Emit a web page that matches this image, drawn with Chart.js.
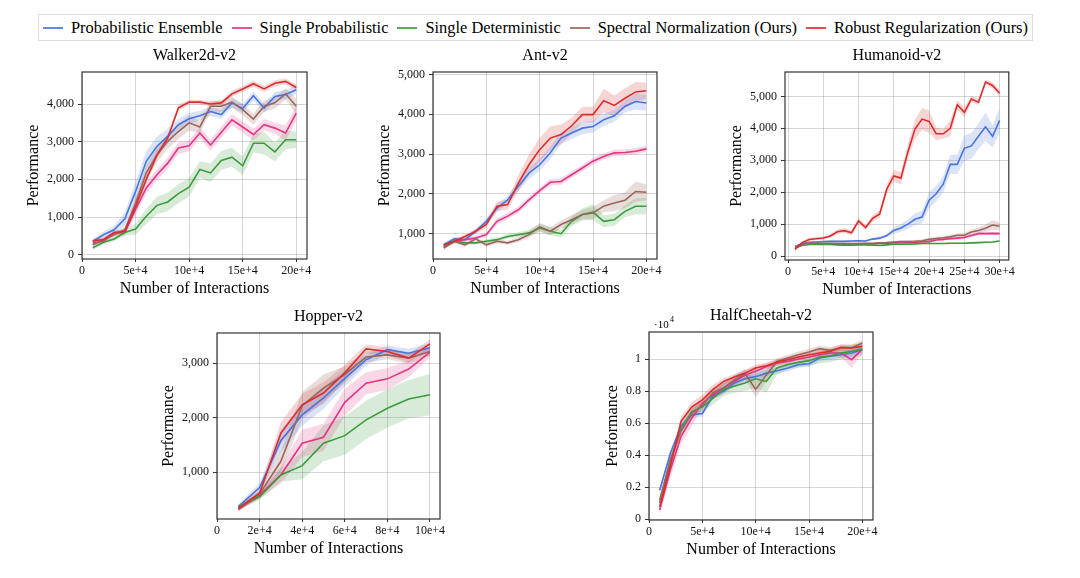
<!DOCTYPE html>
<html>
<head>
<meta charset="utf-8">
<script src="https://cdn.jsdelivr.net/npm/chart.js@4.4.1/dist/chart.umd.min.js"></script>
<style>
  body { margin: 0; background: #fff; width: 1080px; height: 578px; overflow: hidden; position: relative; font-family: "Liberation Serif", serif; }
  .legend { position: absolute; left: 38px; top: 14px; width: 995px; height: 27px; border: 1px solid #ddd; box-sizing: border-box;
            display: flex; align-items: center; padding-left: 4px; font-size: 16.4px; color: #000; }
  .item { display: flex; align-items: center; margin-right: 9px; white-space: nowrap; }
  .sw { width: 20px; height: 2px; margin-right: 8px; opacity: 0.85; }
  canvas { position: absolute; }
</style>
</head>
<body>
<div class="legend" id="legend"></div>

<script>
const names = ['Probabilistic Ensemble', 'Single Probabilistic', 'Single Deterministic', 'Spectral Normalization (Ours)', 'Robust Regularization (Ours)'];
const colors = ['#4a74de', '#e23583', '#3b9c3b', '#99665c', '#dd2c2c'];
const bandColors = ['rgba(74,116,222,0.2)', 'rgba(226,53,131,0.2)', 'rgba(59,156,59,0.2)', 'rgba(153,102,92,0.22)', 'rgba(221,44,44,0.2)'];

// ---- Walker2d-v2
const steps20 = [1e4, 2e4, 3e4, 4e4, 5e4, 6e4, 7e4, 8e4, 9e4, 10e4, 11e4, 12e4, 13e4, 14e4, 15e4, 16e4, 17e4, 18e4, 19e4, 20e4];
const walkerPE = [350, 530, 660, 950, 1680, 2480, 2880, 3140, 3450, 3610, 3690, 3800, 3720, 4030, 3880, 4220, 3890, 4200, 4250, 4380];
const walkerSP = [310, 354, 575, 590, 1200, 1770, 2120, 2430, 2830, 2890, 3230, 2910, 3250, 3580, 3390, 3190, 3450, 3360, 3230, 3760];
const walkerSD = [180, 330, 415, 590, 680, 1020, 1310, 1400, 1620, 1790, 2260, 2170, 2500, 2590, 2360, 2960, 2960, 2730, 3050, 3050];
const walkerSN = [265, 400, 530, 660, 1370, 2170, 2650, 3010, 3270, 3500, 3390, 3940, 3940, 4050, 3850, 3600, 3940, 4030, 4270, 3940];
const walkerRR = [370, 400, 590, 620, 1280, 2000, 2650, 3100, 3900, 4050, 4050, 4000, 4030, 4270, 4400, 4540, 4400, 4550, 4600, 4440];
const walkerPEBand = [60, 80, 100, 180, 250, 280, 250, 200, 150, 150, 130, 120, 120, 120, 120, 120, 120, 120, 120, 120];
const walkerSPBand = [60, 60, 60, 80, 150, 150, 150, 150, 150, 150, 150, 150, 150, 150, 150, 150, 150, 150, 200, 200];
const walkerSDBand = [50, 60, 60, 80, 150, 200, 230, 250, 250, 250, 220, 250, 250, 250, 250, 250, 300, 250, 250, 220];
const walkerSNBand = [60, 60, 60, 80, 150, 200, 200, 200, 200, 200, 150, 150, 150, 150, 150, 150, 150, 150, 150, 200];
const walkerRRBand = [50, 50, 50, 60, 80, 100, 100, 80, 80, 60, 60, 60, 60, 80, 80, 80, 80, 80, 80, 80];

// ---- Ant-v2
const antPE = [720, 870, 850, 1060, 1310, 1640, 1850, 2190, 2520, 2730, 3030, 3400, 3530, 3650, 3690, 3860, 3960, 4200, 4320, 4280];
const antSP = [680, 810, 850, 890, 975, 1310, 1440, 1600, 1850, 2080, 2290, 2310, 2480, 2650, 2820, 2940, 3030, 3040, 3070, 3130];
const antSD = [680, 810, 770, 770, 810, 850, 930, 975, 1020, 1140, 1060, 1000, 1310, 1480, 1540, 1310, 1350, 1560, 1690, 1690];
const antSN = [640, 810, 720, 870, 720, 810, 770, 850, 975, 1170, 1060, 1230, 1350, 1480, 1520, 1690, 1770, 1840, 2060, 2040];
const antRR = [720, 810, 930, 1060, 1230, 1690, 1730, 2270, 2730, 3110, 3400, 3490, 3710, 3990, 3990, 4340, 4220, 4400, 4560, 4590];
const antPEBand = [50, 50, 50, 60, 80, 100, 100, 120, 150, 150, 150, 150, 150, 150, 150, 150, 150, 150, 200, 200];
const antSPBand = [40, 40, 40, 50, 60, 80, 80, 80, 80, 80, 80, 80, 80, 80, 80, 80, 80, 80, 80, 80];
const antSDBand = [40, 40, 40, 40, 50, 50, 60, 60, 80, 100, 100, 100, 120, 150, 200, 150, 150, 150, 200, 200];
const antSNBand = [50, 50, 50, 50, 50, 50, 50, 60, 80, 100, 100, 100, 120, 120, 150, 150, 200, 200, 250, 200];
const antRRBand = [50, 50, 50, 60, 80, 120, 120, 200, 250, 300, 300, 250, 200, 200, 200, 300, 250, 250, 250, 200];

// ---- Humanoid-v2
const steps30 = [1e4, 2e4, 3e4, 4e4, 5e4, 6e4, 7e4, 8e4, 9e4, 10e4, 11e4, 12e4, 13e4, 14e4, 15e4, 16e4, 17e4, 18e4, 19e4, 20e4,
                 21e4, 22e4, 23e4, 24e4, 25e4, 26e4, 27e4, 28e4, 29e4, 30e4];
const humanoidPE = [300, 390, 430, 440, 450, 460, 460, 460, 470, 480, 470, 530, 560, 640, 800, 880, 1000, 1150, 1220, 1750, 1950, 2250, 2870, 2870, 3380, 3450, 3750, 4050, 3750, 4250];
const humanoidSP = [280, 380, 400, 390, 380, 380, 380, 370, 380, 380, 380, 380, 390, 400, 410, 420, 420, 430, 440, 450, 500, 520, 540, 560, 580, 640, 700, 700, 710, 700];
const humanoidSD = [250, 330, 360, 370, 360, 360, 350, 340, 340, 350, 350, 340, 330, 350, 370, 370, 370, 380, 390, 390, 390, 390, 400, 400, 400, 410, 420, 430, 440, 470];
const humanoidSN = [250, 370, 400, 400, 390, 400, 390, 390, 390, 390, 400, 400, 410, 420, 440, 450, 450, 460, 480, 520, 550, 570, 600, 650, 650, 750, 800, 870, 970, 930];
const humanoidRR = [210, 420, 520, 540, 565, 630, 760, 795, 730, 1100, 890, 1180, 1320, 2100, 2510, 2440, 3270, 3975, 4290, 4215, 3830, 3830, 4000, 4740, 4500, 4920, 4820, 5450, 5345, 5100];
const humanoidPEBand = [30, 30, 30, 30, 30, 30, 30, 30, 30, 30, 40, 40, 50, 60, 100, 120, 150, 180, 200, 250, 250, 250, 300, 300, 400, 400, 400, 450, 350, 400];
const humanoidSPBand = [30, 30, 30, 30, 30, 30, 30, 30, 30, 30, 30, 30, 30, 30, 30, 30, 30, 30, 40, 40, 40, 40, 40, 50, 50, 50, 50, 50, 50, 50];
const humanoidSDBand = [20, 20, 20, 20, 20, 20, 20, 20, 20, 20, 20, 20, 20, 20, 20, 20, 20, 20, 20, 20, 20, 20, 20, 20, 20, 25, 25, 25, 25, 25];
const humanoidSNBand = [30, 30, 30, 30, 30, 30, 30, 30, 30, 30, 30, 30, 30, 30, 40, 40, 40, 40, 40, 50, 50, 50, 60, 60, 80, 80, 100, 120, 150, 120];
const humanoidRRBand = [40, 50, 50, 50, 50, 60, 80, 80, 80, 100, 80, 100, 120, 150, 180, 200, 250, 300, 350, 350, 200, 150, 250, 150, 150, 100, 100, 80, 100, 100];

// ---- Hopper-v2
const steps10 = [1e4, 2e4, 3e4, 4e4, 5e4, 6e4, 7e4, 8e4, 9e4, 10e4];
const hopperPE = [370, 720, 1580, 2050, 2360, 2720, 3060, 3245, 3180, 3280];
const hopperSP = [320, 580, 950, 1530, 1640, 2280, 2630, 2710, 2890, 3200];
const hopperSD = [360, 550, 950, 1120, 1530, 1670, 1960, 2170, 2340, 2420];
const hopperSN = [320, 600, 1200, 2220, 2540, 2790, 3110, 3150, 3090, 3210];
const hopperRR = [340, 615, 1715, 2235, 2450, 2820, 3260, 3210, 3090, 3350];
const hopperPEBand = [40, 80, 200, 200, 200, 150, 100, 80, 80, 80];
const hopperSPBand = [40, 60, 150, 250, 250, 250, 200, 200, 150, 100];
const hopperSDBand = [40, 60, 120, 250, 330, 350, 350, 350, 350, 380];
const hopperSNBand = [40, 60, 200, 250, 250, 150, 100, 80, 100, 80];
const hopperRRBand = [40, 60, 200, 200, 200, 150, 80, 80, 80, 80];

// ---- HalfCheetah-v2 (x 10^4)
const cheetahPE = [0.18, 0.41, 0.58, 0.65, 0.66, 0.77, 0.80, 0.85, 0.877, 0.89, 0.912, 0.927, 0.944, 0.965, 0.971, 1.006, 1.017, 1.027, 1.038, 1.058];
const cheetahSP = [0.056, 0.307, 0.516, 0.63, 0.724, 0.777, 0.818, 0.86, 0.90, 0.923, 0.954, 0.975, 0.985, 1.0, 1.013, 1.027, 1.038, 1.038, 0.996, 1.062];
const cheetahSD = [0.10, 0.36, 0.56, 0.67, 0.70, 0.755, 0.81, 0.83, 0.85, 0.877, 0.86, 0.944, 0.965, 0.979, 0.99, 1.013, 1.02, 1.038, 1.048, 1.062];
const cheetahSN = [0.12, 0.37, 0.55, 0.66, 0.71, 0.79, 0.82, 0.87, 0.91, 0.81, 0.90, 0.985, 1.006, 1.027, 1.044, 1.065, 1.054, 1.069, 1.069, 1.10];
const cheetahRR = [0.077, 0.33, 0.61, 0.70, 0.745, 0.81, 0.86, 0.887, 0.912, 0.944, 0.958, 0.981, 0.996, 1.013, 1.027, 1.038, 1.048, 1.073, 1.069, 1.079];
const cheetahPEBand = [0.02, 0.02, 0.02, 0.02, 0.02, 0.02, 0.02, 0.02, 0.02, 0.02, 0.02, 0.02, 0.02, 0.02, 0.02, 0.02, 0.02, 0.02, 0.02, 0.02];
const cheetahSPBand = [0.03, 0.05, 0.05, 0.05, 0.03, 0.03, 0.03, 0.03, 0.03, 0.03, 0.02, 0.02, 0.02, 0.02, 0.02, 0.02, 0.02, 0.03, 0.05, 0.03];
const cheetahSDBand = [0.02, 0.03, 0.03, 0.03, 0.03, 0.04, 0.04, 0.04, 0.05, 0.06, 0.07, 0.04, 0.03, 0.03, 0.03, 0.04, 0.04, 0.04, 0.04, 0.04];
const cheetahSNBand = [0.02, 0.03, 0.03, 0.03, 0.03, 0.03, 0.03, 0.03, 0.03, 0.05, 0.04, 0.02, 0.02, 0.02, 0.02, 0.02, 0.02, 0.02, 0.02, 0.02];
const cheetahRRBand = [0.02, 0.03, 0.03, 0.03, 0.03, 0.03, 0.02, 0.02, 0.02, 0.02, 0.02, 0.02, 0.02, 0.02, 0.02, 0.02, 0.02, 0.02, 0.02, 0.02];

// tick positions
const xTicks20 = [0, 5e4, 10e4, 15e4, 20e4];
const xTicks30 = [0, 5e4, 10e4, 15e4, 20e4, 25e4, 30e4];
const xTicks10 = [0, 2e4, 4e4, 6e4, 8e4, 10e4];
const walkerYTicks = [0, 1000, 2000, 3000, 4000];
const antYTicks = [1000, 2000, 3000, 4000, 5000];
const humanoidYTicks = [0, 1000, 2000, 3000, 4000, 5000];
const hopperYTicks = [1000, 2000, 3000];
const cheetahYTicks = [0, 0.2, 0.4, 0.6, 0.8, 1];

// legend
const legendEl = document.getElementById('legend');
names.forEach((n, i) => {
    const it = document.createElement('div');
    it.className = 'item';
    it.innerHTML = '<span class="sw" style="background:' + colors[i] + '"></span><span>' + n + '</span>';
    legendEl.appendChild(it);
});

const serif = '"Liberation Serif", "Times New Roman", serif';

const panelDeco = {
    id: 'panelDeco',
    afterDraw(chart) {
        const { ctx, chartArea: a } = chart;
        const o = chart.options.plugins.panelDeco;
        ctx.save();
        ctx.strokeStyle = '#333';
        ctx.lineWidth = 1.2;
        ctx.strokeRect(a.left, a.top, a.right - a.left, a.bottom - a.top);
        ctx.fillStyle = '#000';
        ctx.font = '16px ' + serif;
        ctx.textAlign = 'center';
        ctx.textBaseline = 'middle';
        ctx.fillText(o.title, (a.left + a.right) / 2, a.top - 16);
        if (o.mult) {
            ctx.textAlign = 'left';
            ctx.font = '11px ' + serif;
            ctx.fillText('\u00b710', a.left + 5, a.top - 7);
            ctx.font = '8px ' + serif;
            ctx.fillText('4', a.left + 21, a.top - 12);
        }
        ctx.restore();
    }
};

function makePanel(box, title, steps, means, bands, xr, yr, xTicks, yTicks, yFmt, mult) {
    const yW = box.yW;
    const cv = document.createElement('canvas');
    const w = yW + (box.R - box.L) + 8;
    const h = 30 + (box.B - box.T) + 43;
    cv.width = w; cv.height = h;
    cv.style.left = (box.L - yW) + 'px';
    cv.style.top = (box.T - 30) + 'px';
    document.body.appendChild(cv);

    const datasets = [];
    means.forEach((m, i) => {
        datasets.push({
            data: steps.map((x, j) => ({ x: x, y: m[j] + bands[i][j] })),
            borderWidth: 0, pointRadius: 0, fill: false, order: 20 + i
        });
        datasets.push({
            data: steps.map((x, j) => ({ x: x, y: m[j] - bands[i][j] })),
            borderWidth: 0, pointRadius: 0, fill: '-1', backgroundColor: bandColors[i], order: 20 + i
        });
    });
    means.forEach((m, i) => {
        datasets.push({
            label: names[i],
            data: steps.map((x, j) => ({ x: x, y: m[j] })),
            borderColor: colors[i], borderWidth: 1.6, pointRadius: 0, fill: false, tension: 0,
            order: 4 - i
        });
    });

    const tickFont = { family: serif, size: 12 };
    new Chart(cv, {
        type: 'line',
        data: { datasets },
        options: {
            responsive: false,
            animation: false,
            layout: { padding: { top: 30, right: 8, left: 0, bottom: 0 } },
            plugins: { legend: { display: false }, tooltip: { enabled: false }, panelDeco: { title, mult } },
            scales: {
                x: {
                    type: 'linear', min: xr[0], max: xr[1],
                    afterBuildTicks: s => { s.ticks = xTicks.map(v => ({ value: v })); },
                    afterFit: s => { s.height = 43; },
                    ticks: { font: tickFont, color: '#111', padding: 2, maxRotation: 0, autoSkip: false,
                             callback: v => v === 0 ? '0' : (v / 1e4) + 'e+4' },
                    grid: { color: 'rgba(0,0,0,0.16)', tickColor: '#333', tickLength: 3 },
                    border: { display: false },
                    title: { display: true, text: 'Number of Interactions', color: '#000',
                             font: { family: serif, size: 16 }, padding: { top: 0, bottom: 4 } }
                },
                y: {
                    min: yr[0], max: yr[1],
                    afterBuildTicks: s => { s.ticks = yTicks.map(v => ({ value: v })); },
                    afterFit: s => { s.width = yW; },
                    ticks: { font: tickFont, color: '#111', padding: 4, autoSkip: false, callback: yFmt },
                    grid: { color: 'rgba(0,0,0,0.16)', tickColor: '#333', tickLength: 4 },
                    border: { display: false },
                    title: { display: true, text: 'Performance', color: '#000',
                             font: { family: serif, size: 16 }, padding: { top: 4, bottom: 0 } }
                }
            }
        },
        plugins: [panelDeco]
    });
}

const thousands = v => v.toLocaleString('en-US');

makePanel({ L: 82, R: 307, T: 72, B: 259, yW: 62 }, 'Walker2d-v2', steps20,
    [walkerPE, walkerSP, walkerSD, walkerSN, walkerRR],
    [walkerPEBand, walkerSPBand, walkerSDBand, walkerSNBand, walkerRRBand],
    [0, 21e4], [-115, 4850], xTicks20, walkerYTicks, thousands);

makePanel({ L: 433, R: 657, T: 72, B: 259, yW: 62 }, 'Ant-v2', steps20,
    [antPE, antSP, antSD, antSN, antRR],
    [antPEBand, antSPBand, antSDBand, antSNBand, antRRBand],
    [0, 21e4], [364, 5060], xTicks20, antYTicks, thousands);

makePanel({ L: 785, R: 1009, T: 72, B: 260, yW: 62 }, 'Humanoid-v2', steps30,
    [humanoidPE, humanoidSP, humanoidSD, humanoidSN, humanoidRR],
    [humanoidPEBand, humanoidSPBand, humanoidSDBand, humanoidSNBand, humanoidRRBand],
    [-0.43e4, 31.3e4], [-125, 5765], xTicks30, humanoidYTicks, thousands);

makePanel({ L: 217, R: 440, T: 333, B: 519, yW: 62 }, 'Hopper-v2', steps10,
    [hopperPE, hopperSP, hopperSD, hopperSN, hopperRR],
    [hopperPEBand, hopperSPBand, hopperSDBand, hopperSNBand, hopperRRBand],
    [0, 10.47e4], [143, 3550], xTicks10, hopperYTicks, thousands);

makePanel({ L: 649, R: 873, T: 332, B: 520, yW: 50 }, 'HalfCheetah-v2', steps20,
    [cheetahPE, cheetahSP, cheetahSD, cheetahSN, cheetahRR],
    [cheetahPEBand, cheetahSPBand, cheetahSDBand, cheetahSNBand, cheetahRRBand],
    [0, 21e4], [-0.006, 1.169], xTicks20, cheetahYTicks, v => String(v), true);
</script>
</body>
</html>
